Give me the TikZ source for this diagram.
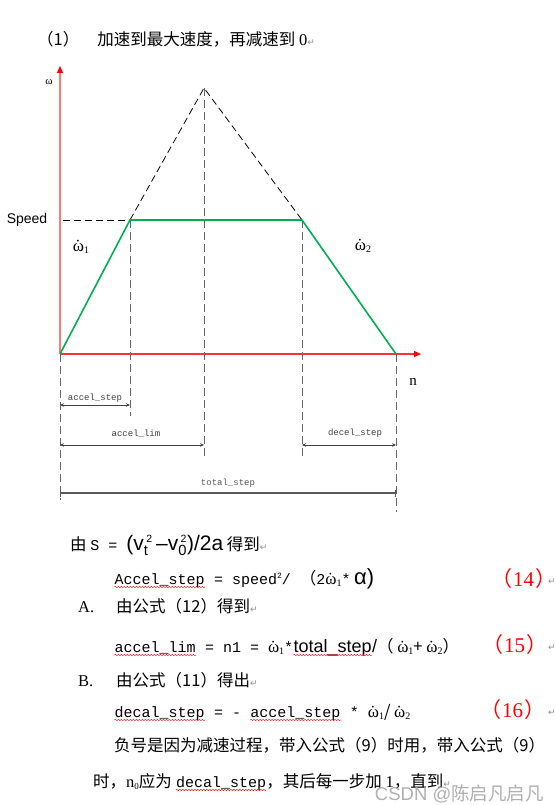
\documentclass[tikz,border=0pt]{standalone}
\usepackage{fontspec}
\setmainfont{Liberation Serif}
\setsansfont{Liberation Sans}
\setmonofont{Liberation Mono}
\newfontfamily\cjk{Noto Sans CJK SC}
\newfontfamily\symb{DejaVu Sans}
\usepackage{xcolor}
\usetikzlibrary{arrows.meta, positioning, calc, decorations.pathmorphing}
\definecolor{axisPink}{RGB}{255,120,120}
\definecolor{axisRed}{RGB}{255,50,50}
\definecolor{curveGreen}{RGB}{0,176,80}
\definecolor{eqRed}{RGB}{255,0,0}
\definecolor{markGray}{RGB}{140,140,140}
\definecolor{wmGray}{RGB}{175,175,175}
\newcommand{\spellwave}[1]{\tikz[baseline=(sw.base), x=1pt, y=1pt]{\node[inner sep=0pt, anchor=base west] (sw) at (0,0) {#1};
    \draw[red, line width=0.4pt, decorate, decoration={snake, amplitude=0.7pt, segment length=3pt}] ($(sw.base west)+(0,-3)$) -- ($(sw.base east)+(0,-3)$);}}
\newcommand{\retmark}{{\symb\color{markGray}\fontsize{9}{10}\selectfont ↵}}
\newcommand{\omd}[1]{{\rmfamily\fontsize{17}{18}\selectfont\ooalign{ω\cr\hidewidth\kern-1pt ˙\hidewidth\cr}}\raisebox{-2pt}{\rmfamily\fontsize{10}{10}\selectfont #1}}
\newcommand{\mono}{\ttfamily\fontsize{15}{18}\selectfont}

\begin{document}
\begin{tikzpicture}[
    x=1pt, y=-1pt,
    axisline/.style={line width=1.3pt, -{Triangle[length=7pt,width=6pt,color=red]}},
    curve/.style={curveGreen, line width=1.6pt},
    guide/.style={black, line width=0.8pt, dash pattern=on 7pt off 4pt},
    vguide/.style={black!60, line width=0.8pt, dash pattern=on 8pt off 4pt},
    dimline/.style={black!75, line width=0.8pt, {Stealth[length=4pt,width=3.5pt]}-{Stealth[length=4pt,width=3.5pt]}},
    barline/.style={black!65, line width=1.1pt, {Bar[width=7pt]}-{Bar[width=7pt]}},
    dimlabel/.style={font=\ttfamily\fontsize{9}{10}\selectfont, above=1pt, inner sep=1pt},
    para/.style={anchor=base west, inner sep=0pt, font=\cjk\fontsize{16.5}{19}\selectfont},
    eqno/.style={anchor=base west, inner sep=0pt, text=eqRed, font=\rmfamily\fontsize{21}{24}\selectfont}
]
    \useasboundingbox (0,0) rectangle (556,805);

    \node[para] (title) at (37,46) {（1）\hspace{18pt}加速到最大速度，再减速到 {\rmfamily 0}\retmark};

    % axes and curve
    \coordinate (O) at (60,354);
    \coordinate (ytop) at (60,66);
    \coordinate (xtop) at (421,354);
    \coordinate (A) at (130,220);
    \coordinate (P) at (204,88);
    \coordinate (B) at (302,220);
    \coordinate (E) at (396,354);
    \coordinate (sp) at (63,220);

    \draw[axisline, axisPink] (O) -- (ytop);
    \draw[axisline, axisRed] (O) -- (xtop);
    \draw[guide] (A) -- (P) -- (B);
    \draw[guide] (sp) -- (A);
    \draw[vguide] (P) -- (P |- 0,457);
    \draw[vguide] (A) -- (A |- 0,416);
    \draw[vguide] (B) -- (B |- 0,457);
    \draw[vguide] (O) -- (O |- 0,500);
    \draw[vguide] (E) -- (E |- 0,512);
    \draw[curve] (O) -- (A) -- (B) -- (E);

    \node[font=\rmfamily\fontsize{11}{12}\selectfont] (wlab) at (49,82) {ω};
    \node[font=\rmfamily\fontsize{15}{18}\selectfont] (nlab) at (413,382) {n};
    \node[font=\sffamily\fontsize{14}{16}\selectfont] (speed) at (27,220) {Speed};
    \node[inner sep=0pt] (w1) at (81,249) {\omd{1}};
    \node[inner sep=0pt] (w2) at (363,248) {\omd{2}};

    % step dimensions
    \coordinate (as1) at (60,405);
    \coordinate (as2) at (130,405);
    \coordinate (al1) at (60,445);
    \coordinate (al2) at (204,445);
    \coordinate (ds1) at (302,445);
    \coordinate (ds2) at (396,445);
    \coordinate (ts1) at (60,493);
    \coordinate (ts2) at (396,493);

    \draw[dimline] (as1) -- (as2) node[dimlabel, midway] (aslab) {accel\_step};
    \draw[dimline] (al1) -- (al2) node[dimlabel, midway, yshift=5pt, xshift=4pt] (allab) {accel\_lim};
    \draw[dimline] (ds1) -- (ds2) node[dimlabel, midway, yshift=5pt, xshift=6pt] (dslab) {decel\_step};
    \draw[barline] (ts1) -- (ts2) node[dimlabel, midway, yshift=3pt] (tslab) {total\_step};

    % formulas
    \node[para] (l1) at (70,550) {由 {\mono S = }{\sffamily\fontsize{21}{24}\selectfont ($\mathsf{v}_{\mathsf{t}}^{\,\scriptscriptstyle\mathsf{2}}$\,–$\mathsf{v}_{\mathsf{0}}^{\,\scriptscriptstyle\mathsf{2}}$)/2a} 得到\retmark};
    \node[para] (l2) at (114,584) {{\mono\spellwave{Accel\_step} = speed\raisebox{6pt}{\fontsize{8}{8}\selectfont 2}/ }（{\mono 2}\omd{1}{\mono *} {\sffamily\fontsize{22}{24}\selectfont α)}};
    \node[eqno] (n14) at (491,586) {{\cjk （}\hspace{1pt}14\hspace{1pt}{\cjk ）}};
    \node[anchor=base west, inner sep=0pt] (r14) at (548,584) {\retmark};
    \node[para] (itemA) at (78,612) {{\rmfamily A.}};
    \node[para] (lA) at (116,612) {由公式（12）得到\retmark};
    \node[para] (l3) at (114,652) {{\mono\spellwave{accel\_lim} = n1 = }\omd{1}{\mono *}{\sffamily\fontsize{18}{20}\selectfont\spellwave{total\_step}/}（ \omd{1}+ \omd{2}）};
    \node[eqno] (n15) at (482,652) {{\cjk （}\hspace{1pt}15\hspace{1pt}{\cjk ）}};
    \node[anchor=base west, inner sep=0pt] (r15) at (548,650) {\retmark};
    \node[para] (itemB) at (78,686) {{\rmfamily B.}};
    \node[para] (lB) at (116,686) {由公式（11）得出\retmark};
    \node[para] (l4) at (114,717) {{\mono\spellwave{decal\_step} = - \spellwave{accel\_step} * }\omd{1}/ \omd{2}};
    \node[eqno] (n16) at (480,717) {{\cjk （}\hspace{1pt}16\hspace{1pt}{\cjk ）}};
    \node[anchor=base west, inner sep=0pt] (r16) at (548,715) {\retmark};
    \node[para] (l5) at (114,751) {负号是因为减速过程，带入公式（9）时用，带入公式（9）};
    \node[para] (l6) at (93,787) {时，{\rmfamily n\raisebox{-2pt}{\fontsize{9}{9}\selectfont 0}}应为 {\mono\spellwave{decal\_step}}，其后每一步加 {\rmfamily 1}，直到\retmark};

    \node[anchor=base east, inner sep=0pt, text=wmGray, font=\sffamily\fontsize{18.5}{20}\selectfont] (wmark) at (544,800) {CSDN @{\cjk 陈启凡启凡}};
\end{tikzpicture}
\end{document}
